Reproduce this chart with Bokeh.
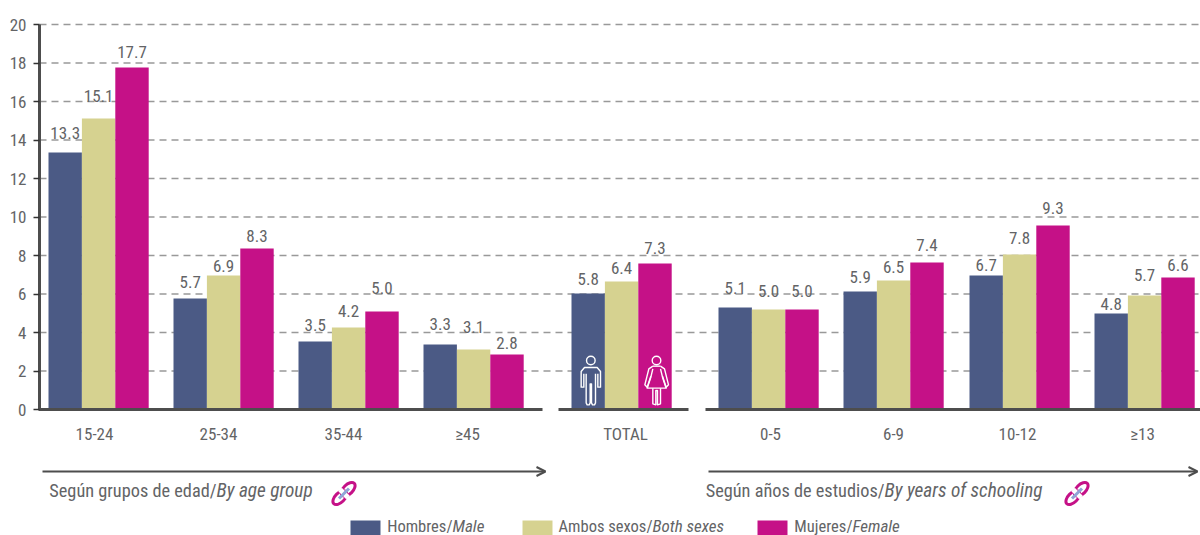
from bokeh.plotting import figure
from bokeh.models import (ColumnDataSource, FixedTicker, Range1d, Arrow, OpenHead)
from bokeh.core.properties import value
from bokeh.embed import file_html
from bokeh.resources import INLINE

# ---------- data ----------
categories = ["15-24", "25-34", "35-44", "≥45", "TOTAL", "0-5", "6-9", "10-12", "≥13"]
# bar heights as drawn in the picture
hombres = [13.35, 5.77, 3.53, 3.38, 6.03, 5.30, 6.13, 6.96, 4.99]
ambos = [15.12, 6.96, 4.26, 3.12, 6.65, 5.19, 6.70, 8.05, 5.92]
mujeres = [17.77, 8.36, 5.09, 2.86, 7.58, 5.19, 7.64, 9.56, 6.86]
# printed labels
hombres_lbl = ["13.3", "5.7", "3.5", "3.3", "5.8", "5.1", "5.9", "6.7", "4.8"]
ambos_lbl = ["15.1", "6.9", "4.2", "3.1", "6.4", "5.0", "6.5", "7.8", "5.7"]
mujeres_lbl = ["17.7", "8.3", "5.0", "2.8", "7.3", "5.0", "7.4", "9.3", "6.6"]
y_ticks = [0, 2, 4, 6, 8, 10, 12, 14, 16, 18, 20]

# ---------- layout ----------
W, H = 1200, 535
FONT = "Roboto Condensed"
TXT = "#636466"
DARK = "#4d4d4d"
COL = ["#4b5a85", "#d6d290", "#c51187"]
Y0, PXU = 409, 19.25
FS = "17px"
group_left = [48, 173, 298, 423, 571, 718, 843, 969, 1094]
tick_x = [94, 218, 343, 467, 625, 770, 893, 1017, 1142]
bw = 33.4
# label centre distance above bar top (px)
lift = [
    [20, 16, 17, 20, 14, 19, 14, 11, 9],
    [22, 10, 16, 22, 13, 19, 14, 17, 21],
    [15, 13, 24, 11, 16, 19, 17, 17, 12],
]


def dy(py):
    return (Y0 - py) / PXU


p = figure(width=W, height=H, output_backend="svg", toolbar_location=None,
           x_range=Range1d(0, W), y_range=Range1d(dy(H), dy(0)),
           min_border=0, min_border_left=0, min_border_right=0, min_border_top=0, min_border_bottom=0,
           outline_line_color=None, margin=0)
p.grid.visible = False

# grid
p.segment(x0=[39] * 10, x1=[W] * 10, y0=y_ticks[1:], y1=y_ticks[1:],
          line_color="#999999", line_width=1.5, line_dash="7 5")

# bars + labels
for k, (vals, lbls) in enumerate(zip((hombres, ambos, mujeres), (hombres_lbl, ambos_lbl, mujeres_lbl))):
    xs = [g + (k + 0.5) * bw for g in group_left]
    src = ColumnDataSource(dict(x=xs, top=vals, lbl=lbls, off=[-v for v in lift[k]]))
    p.vbar(x="x", top="top", bottom=0, width=bw, fill_color=COL[k], line_color=None, source=src)
    p.text(x="x", y="top", text="lbl", y_offset="off", source=src, text_font=value(FONT),
           text_font_size=FS, text_color=TXT, text_align="center", text_baseline="middle")

# axes
ya = p.yaxis[0]
ya.fixed_location = 39
ya.ticker = FixedTicker(ticks=y_ticks)
ya.bounds = (0, 20)
ya.axis_line_color = DARK
ya.axis_line_width = 3
ya.major_tick_line_color = "#333333"
ya.major_tick_line_width = 1.5
ya.major_tick_out = 6
ya.major_tick_in = 0
ya.minor_tick_line_color = None
ya.major_label_standoff = 7
ya.major_label_text_font = FONT
ya.major_label_text_font_size = FS
ya.major_label_text_color = TXT

xa = p.xaxis[0]
xa.fixed_location = 0
xa.ticker = FixedTicker(ticks=tick_x)
xa.major_label_overrides = {x: c for x, c in zip(tick_x, categories)}
xa.axis_line_color = None
xa.major_tick_line_color = None
xa.minor_tick_line_color = None
xa.major_label_standoff = 8
xa.major_label_text_font = FONT
xa.major_label_text_font_size = FS
xa.major_label_text_color = TXT

# broken baseline
p.segment(x0=[38, 558, 705], x1=[542, 688, W], y0=[0] * 3, y1=[0] * 3, line_color=DARK, line_width=3)

# arrows
for x0, x1 in ((42, 545), (708, 1197)):
    p.add_layout(Arrow(end=OpenHead(size=9, line_color=DARK, line_width=2), x_start=x0, x_end=x1,
                       y_start=dy(471), y_end=dy(471), line_color=DARK, line_width=2))


def mixed(x_join, py, regular, italic, size, isize):
    p.text(x=[x_join], y=[dy(py)], text=[regular], text_font=value(FONT), text_font_size=size,
           text_color=TXT, text_align="right", text_baseline="middle")
    p.text(x=[x_join], y=[dy(py)], text=[italic], text_font=value(FONT), text_font_size=isize,
           text_font_style="italic", text_color=TXT, text_align="left", text_baseline="middle")


mixed(216, 490, "Según grupos de edad/", "By age group", "18.3px", "19.3px")
mixed(884, 490, "Según años de estudios/", "By years of schooling", "18.3px", "19.3px")

# legend
for (x, c) in ((350, COL[0]), (522, COL[1]), (757, COL[2])):
    p.quad(left=[x], right=[x + 30], top=[dy(520)], bottom=[dy(535)], fill_color=c, line_color=None)
mixed(452, 525.5, "Hombres/", "Male", "16.5px", "17px")
mixed(652, 525.5, "Ambos sexos/", "Both sexes", "16.5px", "17px")
mixed(852, 525.5, "Mujeres/", "Female", "16.5px", "17px")


# link icons
def link(cx, cy):
    xs = [cx + 4.2, cx - 4.2]
    ys = [dy(cy - 4.2), dy(cy + 4.2)]
    p.ellipse(x=xs, y=ys, width=[17, 17], height=[9.5, 9.5], angle=[0.785, 0.785],
              width_units="screen", height_units="screen", fill_color=None,
              line_color="#c51187", line_width=3)
    p.line(x=[cx - 4, cx + 4], y=[dy(cy - 4), dy(cy + 4)], line_color="white", line_width=5)
    p.line(x=[cx - 5, cx + 5], y=[dy(cy + 5), dy(cy - 5)], line_color="#8fa5d6", line_width=3)


link(343.5, 493)
link(1076.5, 493)


# person icons (zoom-derived outline)
def outline(pts, ox=570, oy=345):
    p.line(x=[ox + a / 3 for a, b in pts], y=[dy(oy + b / 3) for a, b in pts], line_color="white",
           line_width=1.4, line_join="round")


def head(x, y):
    p.circle(x=[570 + x / 3], y=[dy(345 + y / 3)], radius=[4.3], radius_units="screen", fill_color=None,
             line_color="white", line_width=1.4)


head(61, 45)
outline([(47, 85), (47, 172), (50, 178), (56, 178), (59, 172), (59, 115), (63, 115), (63, 172),
         (66, 178), (72, 178), (75, 172), (75, 85)])
outline([(40, 85), (40, 125), (32, 125), (32, 78), (42, 66), (80, 66), (90, 78), (90, 125), (82, 125), (82, 85)])

head(258, 45)
outline([(247, 70), (241, 95), (230, 128), (287, 128), (276, 95), (270, 70)])
outline([(247, 62), (235, 70), (223, 118), (230, 125), (241, 92)])
outline([(270, 62), (282, 70), (294, 118), (287, 125), (276, 92)])
outline([(247, 62), (270, 62)])
outline([(247, 128), (247, 175), (256, 178), (256, 135), (261, 135), (261, 178), (270, 175), (270, 128)])

open("out.html", "w").write(file_html(p, INLINE))
